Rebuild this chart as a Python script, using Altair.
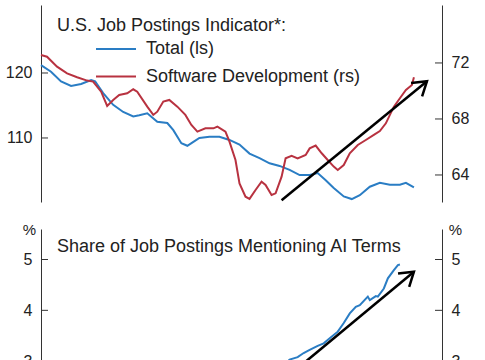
import math
import altair as alt
import pandas as pd

# ---------------- data ----------------
total_weeks = [0, 5, 10, 15, 20, 25, 27, 31, 36, 41, 46, 49, 53, 58, 63, 66, 70, 73, 76, 79,
               84, 89, 94, 99, 104, 109, 114, 119, 124, 129, 134, 138, 142, 146, 151, 155, 159,
               164, 169, 174, 179, 182, 186]
total_vals = [121.2, 120.2, 118.7, 118.0, 118.3, 118.9, 118.7, 116.9, 115.1, 114.0,
              113.3, 113.5, 113.8, 112.5, 112.3, 111.2, 109.2, 108.8, 109.4, 110.0,
              110.2, 110.2, 109.7, 109.0, 107.6, 106.9, 106.1, 105.7, 105.1, 104.3,
              104.3, 104.6, 103.5, 102.3, 101.0, 100.6, 101.2, 102.5, 103.1, 102.8,
              102.8, 103.1, 102.4]

soft_weeks = [0, 3, 8, 13, 18, 23, 26, 30, 33, 36, 39, 43, 46, 48, 53, 56, 58, 61, 64, 68,
              72, 75, 78, 82, 86, 88, 92, 94, 97, 99, 102, 104, 107, 110, 112, 115, 117, 120,
              122, 125, 128, 132, 134, 137, 140, 143, 146, 148, 151, 154, 158, 162, 166, 169,
              172, 176, 179, 182, 185, 186]
soft_vals = [72.57, 72.45, 71.74, 71.26, 70.98, 70.74, 70.67, 69.95, 68.93, 69.36,
             69.71, 69.83, 70.12, 69.95, 68.88, 68.29, 68.52, 69.24, 69.36, 68.88,
             68.29, 67.57, 67.10, 67.33, 67.33, 67.45, 67.10, 66.38, 65.07, 63.40,
             62.45, 62.29, 62.93, 63.52, 63.29, 62.57, 62.69, 63.88, 65.19, 65.36,
             65.19, 65.43, 65.90, 66.10, 65.55, 65.07, 64.60, 64.36, 64.71, 65.55,
             66.14, 66.50, 66.86, 67.14, 67.69, 68.88, 69.48, 70.07, 70.43, 70.98]

ai_weeks = [122, 124, 128, 131, 134, 138, 141, 144, 148, 151, 154, 157, 159, 163, 164,
            167, 168, 171, 173, 176, 178, 179]
ai_vals = [2.96, 3.03, 3.08, 3.16, 3.22, 3.30, 3.35, 3.45, 3.58, 3.75, 3.94, 4.07, 4.10,
           4.27, 4.20, 4.28, 4.27, 4.43, 4.63, 4.79, 4.89, 4.90]

left_ticks_top = [110, 120]
right_ticks_top = [64, 68, 72]
ticks_bot = [3, 4, 5]

arrow_top_weeks = [120, 192.5]
arrow_top_vals = [62.2, 70.7]
arrow_bot_weeks = [110, 186]
arrow_bot_vals = [2.27, 4.76]

series_names = ["Total (ls)", "Software Development (rs)"]
title_top = "U.S. Job Postings Indicator*:"
title_bot = "Share of Job Postings Mentioning AI Terms"

# ---------------- styling ----------------
W = 401
H_TOP = 197
H_BOT = 183
X_DOMAIN = [0, 200]
LEFT_DOMAIN = [100.15, 130.46]
RIGHT_DOMAIN = [62.07, 76.14]
AI_DOMAIN = [2.0, 5.6]

BLUE = "#2a7dc4"
RED = "#b83240"
INK = "#222222"
AXC = "#333333"
FONT = "Liberation Sans"
HEAD = "M-0.65,1L0,0L0.65,1"
TXT = 18

AX_STYLE = dict(ticks=False, grid=False, labelPadding=9, labelFontSize=16, labelFont=FONT,
                labelColor=INK, domainColor=AXC, domainWidth=1)


def head_angle(weeks, vals, ydom, h):
    dx = (weeks[1] - weeks[0]) * W / (X_DOMAIN[1] - X_DOMAIN[0])
    dy = (vals[1] - vals[0]) * h / (ydom[1] - ydom[0])
    return 90 - math.degrees(math.atan2(dy, dx))


x_enc = alt.X("week:Q", scale=alt.Scale(domain=X_DOMAIN, nice=False, zero=False), axis=None)

# ---------------- top panel ----------------
df_total = pd.DataFrame({"week": total_weeks, "value": total_vals, "series": series_names[0]})
df_soft = pd.DataFrame({"week": soft_weeks, "value": soft_vals, "series": series_names[1]})

color = alt.Color(
    "series:N",
    scale=alt.Scale(domain=series_names, range=[BLUE, RED]),
    legend=alt.Legend(
        orient="none", legendX=66, legendY=35, title=None,
        symbolType="M-5,0L5,0", symbolSize=64, symbolStrokeWidth=2,
        labelFontSize=TXT, labelFont=FONT, labelColor=INK, labelOffset=21,
        rowPadding=9.5, padding=0, labelLimit=400,
    ),
)

sc_left = alt.Scale(domain=LEFT_DOMAIN, nice=False, zero=False)
sc_right = alt.Scale(domain=RIGHT_DOMAIN, nice=False, zero=False)
ax_left = alt.Axis(orient="left", values=left_ticks_top, title=None, **AX_STYLE)
ax_right = alt.Axis(orient="right", values=right_ticks_top, title=None, **AX_STYLE)

blue = alt.Chart(df_total).mark_line(strokeWidth=2).encode(
    x=x_enc, y=alt.Y("value:Q", scale=sc_left, axis=ax_left), color=color)
lt_top = alt.Chart(pd.DataFrame({"value": left_ticks_top})).mark_rule(
    color=AXC, strokeWidth=1).encode(
    y=alt.Y("value:Q", scale=sc_left, axis=ax_left), x=alt.value(0), x2=alt.value(7))
txt_top = alt.Chart(pd.DataFrame({"t": [title_top]})).mark_text(
    align="left", baseline="alphabetic", fontSize=TXT, font=FONT, color=INK).encode(
    x=alt.value(16), y=alt.value(26), text="t:N")

red = alt.Chart(df_soft).mark_line(strokeWidth=2).encode(
    x=x_enc, y=alt.Y("value:Q", scale=sc_right, axis=ax_right), color=color)
rt_top = alt.Chart(pd.DataFrame({"value": right_ticks_top})).mark_rule(
    color=AXC, strokeWidth=1).encode(
    y=alt.Y("value:Q", scale=sc_right, axis=ax_right), x=alt.value(W - 7), x2=alt.value(W))
df_arrow_top = pd.DataFrame({"week": arrow_top_weeks, "value": arrow_top_vals})
arrow_top = alt.Chart(df_arrow_top).mark_line(color="black", strokeWidth=2.5).encode(
    x=x_enc, y=alt.Y("value:Q", scale=sc_right, axis=ax_right))
head_top = alt.Chart(df_arrow_top.tail(1)).mark_point(
    shape=HEAD, size=720, filled=False, stroke="black", strokeWidth=2.5, opacity=1,
    angle=head_angle(arrow_top_weeks, arrow_top_vals, RIGHT_DOMAIN, H_TOP)).encode(
    x=x_enc, y=alt.Y("value:Q", scale=sc_right, axis=ax_right))

top = alt.layer(
    alt.layer(blue, lt_top, txt_top),
    alt.layer(red, rt_top, arrow_top, head_top),
).resolve_scale(y="independent").properties(width=W, height=H_TOP)

# ---------------- bottom panel ----------------
sc_ai = alt.Scale(domain=AI_DOMAIN, nice=False, zero=False)
common_pct = dict(values=ticks_bot, title="%",
                  titleAngle=0, titleY=0, titleAlign="center", titleBaseline="middle",
                  titleFontSize=15, titleFontWeight="normal", titleFont=FONT, titleColor=INK,
                  **AX_STYLE)
ax_ai_left = alt.Axis(orient="left", titleX=-12, **common_pct)
ax_ai_right = alt.Axis(orient="right", titleX=13, **common_pct)

df_ai = pd.DataFrame({"week": ai_weeks, "value": ai_vals})
ai_line = alt.Chart(df_ai).mark_line(color=BLUE, strokeWidth=2, clip=True).encode(
    x=x_enc, y=alt.Y("value:Q", scale=sc_ai, axis=ax_ai_left))
lt_bot = alt.Chart(pd.DataFrame({"value": ticks_bot})).mark_rule(
    color=AXC, strokeWidth=1).encode(
    y=alt.Y("value:Q", scale=sc_ai, axis=ax_ai_left), x=alt.value(0), x2=alt.value(7))
txt_bot = alt.Chart(pd.DataFrame({"t": [title_bot]})).mark_text(
    align="left", baseline="alphabetic", fontSize=TXT, font=FONT, color=INK).encode(
    x=alt.value(16), y=alt.value(23), text="t:N")
df_arrow_bot = pd.DataFrame({"week": arrow_bot_weeks, "value": arrow_bot_vals})
arrow_bot = alt.Chart(df_arrow_bot).mark_line(color="black", strokeWidth=2.5).encode(
    x=x_enc, y=alt.Y("value:Q", scale=sc_ai, axis=ax_ai_left))
head_bot = alt.Chart(df_arrow_bot.tail(1)).mark_point(
    shape=HEAD, size=720, filled=False, stroke="black", strokeWidth=2.5, opacity=1,
    angle=head_angle(arrow_bot_weeks, arrow_bot_vals, AI_DOMAIN, H_BOT)).encode(
    x=x_enc, y=alt.Y("value:Q", scale=sc_ai, axis=ax_ai_left))
rt_bot = alt.Chart(pd.DataFrame({"value": ticks_bot})).mark_rule(
    color=AXC, strokeWidth=1).encode(
    y=alt.Y("value:Q", scale=sc_ai, axis=ax_ai_right), x=alt.value(W - 7), x2=alt.value(W))

bottom = alt.layer(
    alt.layer(ai_line, lt_bot, txt_bot, arrow_bot, head_bot),
    alt.layer(rt_bot),
).resolve_axis(y="independent").properties(width=W, height=H_BOT)

chart = alt.vconcat(top, bottom, spacing=16).configure_view(stroke=None).properties(padding=5)

chart.save("out.html", embed_options={"renderer": "svg", "actions": False})
